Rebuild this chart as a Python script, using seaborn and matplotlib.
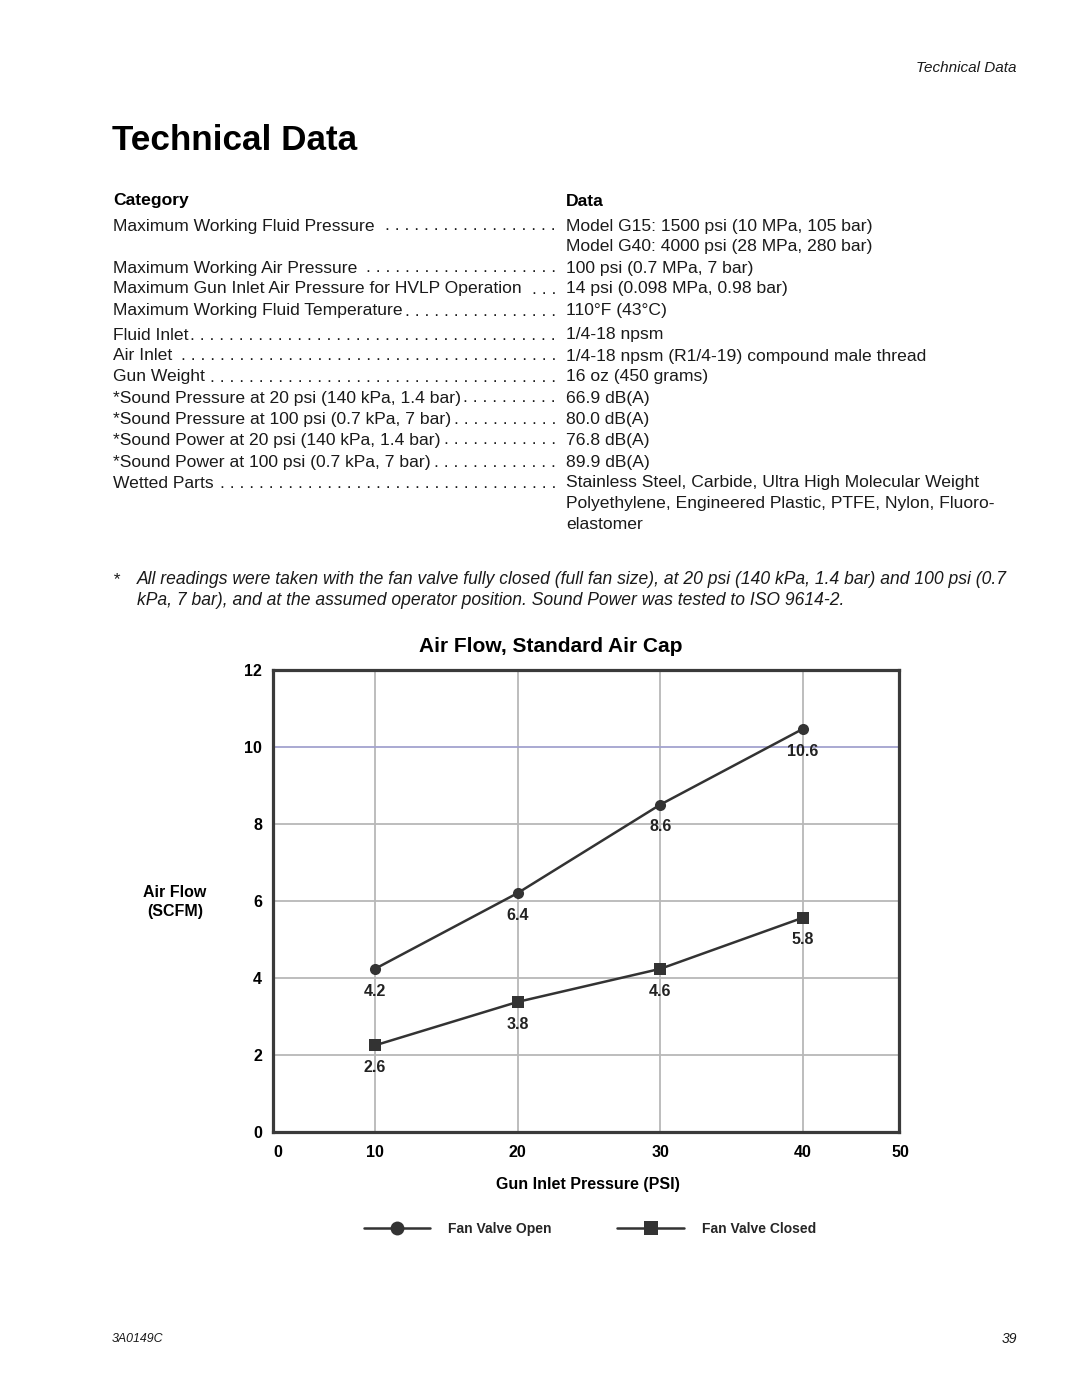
import matplotlib
matplotlib.use("Agg")
import matplotlib.pyplot as plt
from matplotlib import font_manager as fm
import numpy as np
import pandas as pd
import seaborn as sns

# ---------------- data ----------------
pressure = [10, 20, 30, 40]
open_flow = [4.23, 6.20, 8.50, 10.47]
closed_flow = [2.24, 3.37, 4.23, 5.56]
open_labels = ["4.2", "6.4", "8.6", "10.6"]
closed_labels = ["2.6", "3.8", "4.6", "5.8"]
series_names = ["Fan Valve Open", "Fan Valve Closed"]
y_ticks = [0, 2, 4, 6, 8, 10, 12]
x_tick_labels = ["0", "10", "20", "30", "40", "50"]

categories = [
    "Maximum Working Fluid Pressure", "",
    "Maximum Working Air Pressure",
    "Maximum Gun Inlet Air Pressure for HVLP Operation",
    "Maximum Working Fluid Temperature",
    "Fluid Inlet", "Air Inlet", "Gun Weight",
    "*Sound Pressure at 20 psi (140 kPa, 1.4 bar)",
    "*Sound Pressure at 100 psi (0.7 kPa, 7 bar)",
    "*Sound Power at 20 psi (140 kPa, 1.4 bar)",
    "*Sound Power at 100 psi (0.7 kPa, 7 bar)",
    "Wetted Parts", "", "",
]
data_values = [
    "Model G15: 1500 psi (10 MPa, 105 bar)",
    "Model G40: 4000 psi (28 MPa, 280 bar)",
    "100 psi (0.7 MPa, 7 bar)",
    "14 psi (0.098 MPa, 0.98 bar)",
    "110°F (43°C)",
    "1/4-18 npsm",
    "1/4-18 npsm (R1/4-19) compound male thread",
    "16 oz (450 grams)",
    "66.9 dB(A)", "80.0 dB(A)", "76.8 dB(A)", "89.9 dB(A)",
    "Stainless Steel, Carbide, Ultra High Molecular Weight",
    "Polyethylene, Engineered Plastic, PTFE, Nylon, Fluoro-",
    "elastomer",
]
footnote_lines = [
    "All readings were taken with the fan valve fully closed (full fan size), at 20 psi (140 kPa, 1.4 bar) and 100 psi (0.7",
    "kPa, 7 bar), and at the assumed operator position. Sound Power was tested to ISO 9614-2.",
]

# ---------------- style ----------------
sns.set_theme(style="white")


def has_font(name):
    try:
        fm.findfont(fm.FontProperties(family=name), fallback_to_default=False)
        return True
    except Exception:
        return False


BASE = "Liberation Sans"
NARROW = "Liberation Sans Narrow" if has_font("Liberation Sans Narrow") else BASE
plt.rcParams["font.family"] = [BASE, "DejaVu Sans"]

W, H = 1080, 1397
fig = plt.figure(figsize=(W / 100, H / 100), dpi=100)
fig.patch.set_facecolor("white")
renderer = fig.canvas.get_renderer()


def fx(px):
    return px / W


def fy(py):
    return 1 - py / H


def fit(t, width_px):
    bb = t.get_window_extent(renderer)
    t.set_fontsize(t.get_fontsize() * width_px / bb.width)
    return t


TXT = "#1a1a1a"

# page header / title / footer
fit(fig.text(fx(1017), fy(68), "Technical Data", ha="right", va="center",
             family=NARROW, style="italic", fontsize=11, color=TXT), 100)
fit(fig.text(fx(112), fy(140), "Technical Data", ha="left", va="center",
             family=NARROW, weight="bold", fontsize=26, color="black"), 245)
fit(fig.text(fx(112), fy(1339), "3A0149C", ha="left", va="center",
             family=NARROW, style="italic", fontsize=10, color=TXT), 52)
fig.text(fx(1017), fy(1339), "39", ha="right", va="center",
         family=NARROW, style="italic", fontsize=10, color=TXT)

# ---------------- table ----------------
FS = 12.6
fig.text(fx(113), fy(201), "Category", ha="left", va="center",
         weight="bold", fontsize=FS, color="black")
fig.text(fx(566), fy(201), "Data", ha="left", va="center",
         weight="bold", fontsize=FS, color="black")

row_y = [226, 247, 268, 289, 311, 335, 356, 377, 398, 419, 440, 462, 483, 504, 525]
probe = fig.text(0, 0, ". " * 20 + ".", fontsize=FS)
pitch = probe.get_window_extent(renderer).width / 20.5
probe.remove()
for cat, val, y in zip(categories, data_values, row_y):
    if cat:
        t = fig.text(fx(113), fy(y), cat, ha="left", va="center",
                     fontsize=FS, color=TXT)
        end = t.get_window_extent(renderer).x1
        n = int((556 - end - 6) // pitch) + 1
        if n > 0:
            fig.text(fx(556), fy(y), " ".join(["."] * n), ha="right",
                     va="center", fontsize=FS, color=TXT)
    fig.text(fx(566), fy(y), val, ha="left", va="center", fontsize=FS, color=TXT)

# footnote
fig.text(fx(113), fy(580), "*", ha="left", va="center", family=NARROW,
         style="italic", fontsize=FS, color=TXT)
t1 = fit(fig.text(fx(137), fy(580), footnote_lines[0], ha="left", va="center",
                  family=NARROW, style="italic", fontsize=FS, color=TXT), 873)
fig.text(fx(137), fy(601), footnote_lines[1], ha="left", va="center",
         family=NARROW, style="italic", fontsize=t1.get_fontsize(), color=TXT)

# ---------------- chart ----------------
ax_l, ax_r, ax_t, ax_b = 273, 899, 670, 1131.5
ax = fig.add_axes([fx(ax_l), fy(ax_b), (ax_r - ax_l) / W, (ax_b - ax_t) / H])

df = pd.DataFrame({
    "pressure": pressure * 2,
    "flow": open_flow + closed_flow,
    "series": [series_names[0]] * 4 + [series_names[1]] * 4,
})
LINE = "#333333"
sns.lineplot(data=df, x="pressure", y="flow", hue="series", style="series",
             markers={series_names[0]: "o", series_names[1]: "s"},
             dashes=False, palette=[LINE, LINE], linewidth=1.8,
             markersize=8, markeredgewidth=0, ax=ax, legend=False, zorder=5)

for xs, ys, labs in [(pressure, open_flow, open_labels),
                     (pressure, closed_flow, closed_labels)]:
    for xv, yv, lab in zip(xs, ys, labs):
        ax.annotate(lab, (xv, yv), xytext=(0, -16), textcoords="offset points",
                    ha="center", va="center", fontsize=11.5, weight="bold",
                    family=NARROW, color="#222222", zorder=6)

ax.set_xlim(2.85, 46.73)
ax.set_ylim(0, 12)
ax.set_xticks([10, 20, 30, 40])
ax.set_yticks(y_ticks)
ax.set_yticklabels([str(v) for v in y_ticks])
ax.grid(True, color="#b8b8b8", linewidth=1.3)
ygl = ax.get_ygridlines()
ygl[y_ticks.index(10)].set_color("#a3a3cf")
ax.set_axisbelow(True)
ax.tick_params(axis="both", length=0, labelsize=11.5, colors="black")
ax.tick_params(axis="y", pad=8)
for lab in ax.get_yticklabels():
    lab.set_fontweight("bold")
    lab.set_family(NARROW)
ax.set_xticklabels([])
# x tick labels drawn with edge labels 0 and 50 at the frame edges
xt_pos = [3.2, 10, 20, 30, 40, 46.8]
for xp, lab in zip(xt_pos, x_tick_labels):
    ax.text(xp, -0.03, lab, transform=ax.get_xaxis_transform(), ha="center",
            va="top", fontsize=11.5, weight="bold", family=NARROW, color="black")
for s in ax.spines.values():
    s.set_visible(True)
    s.set_color("#3a3a3a")
    s.set_linewidth(2.3)
ax.set_xlabel("")
ax.set_ylabel("")

fig.text(fx(175), fy(902), "Air Flow\n(SCFM)", ha="center", va="center",
         ma="center", fontsize=11.5, weight="bold", family=NARROW,
         linespacing=1.3, color="black")
fig.text(fx(588), fy(1184), "Gun Inlet Pressure (PSI)", ha="center", va="center",
         fontsize=11.5, weight="bold", color="black")
fig.text(fx(551), fy(646), "Air Flow, Standard Air Cap", ha="center", va="center",
         fontsize=15, weight="bold", color="black")

# legend
handles = ax.get_lines()[:2]
leg = fig.legend(handles=handles, labels=series_names, ncol=2,
                 loc="center", bbox_to_anchor=(fx(590), fy(1229)),
                 frameon=False, handlelength=4.8, handletextpad=1.3,
                 columnspacing=4.7, prop={"family": BASE, "weight": "bold",
                                          "size": 10})
for h in leg.legend_handles:
    h.set_markersize(10)

fig.savefig("out.png", dpi=100, facecolor="white")
